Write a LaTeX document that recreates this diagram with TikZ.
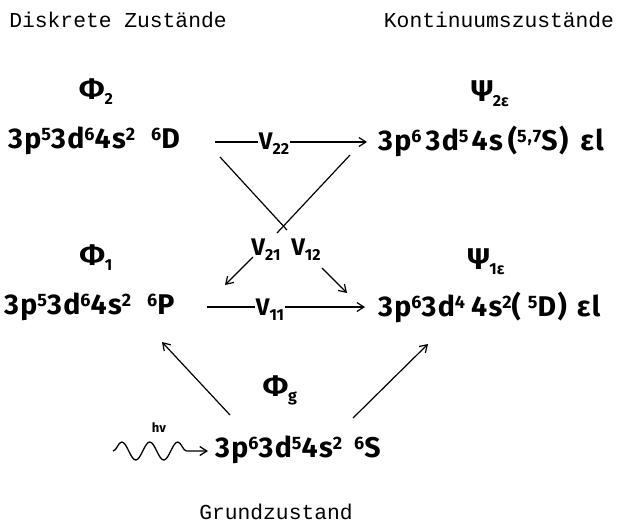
\documentclass[tikz,border=0pt]{standalone}
\usepackage{fontspec}
\setmainfont{Fira Sans}
\newfontfamily\tw{Liberation Mono}
\usetikzlibrary{arrows.meta,decorations.pathmorphing}
\newcommand\su[1]{\raisebox{8pt}{\fontsize{18}{18}\selectfont #1}}
\newcommand\lo[1]{\raisebox{-5pt}{\fontsize{16}{16}\selectfont #1}}
\begin{document}
\begin{tikzpicture}[x=1pt,y=-1pt,
  state/.style={font=\fontsize{28.5}{30}\selectfont\bfseries\addfontfeatures{LetterSpace=5}, inner sep=0pt, anchor=west},
  head/.style={font=\tw\fontsize{21.3}{24}\selectfont, inner sep=0pt},
  wf/.style={font=\fontsize{30}{32}\selectfont\bfseries, inner sep=0pt},
  vl/.style={font=\fontsize{24}{26}\selectfont\bfseries, inner sep=1pt},
  ln/.style={line width=1.2pt},
  arr/.style={line width=1.2pt, -{Straight Barb[length=7pt,width=9pt]}}]
\useasboundingbox (0,0) rectangle (620,523);
% headings
\node[head] (dz) at (118,20) {Diskrete Zustände};
\node[head] (kz) at (499,20) {Kontinuumszustände};
\node[head] (gz) at (276,512) {Grundzustand};
% wave functions
\node[wf] (phi2) at (96,92) {Φ\lo{2}};
\node[wf] (psi2) at (490,94) {Ψ\lo{2ε}};
\node[wf] (phi1) at (96,258) {Φ\lo{1}};
\node[wf] (psi1) at (486,262) {Ψ\lo{1ε}};
\node[wf] (phig) at (280,390) {Φ\lo{g}};
% states
\node[state] (s2) at (8,141) {3p\su{5}3d\su{6}4s\su{2}\hspace{16pt}\su{6}D};
\node[state] (c2) at (378,141) {3p\su{6}\hspace{4pt}3d\su{5}\hspace{3pt}4s\hspace{5pt}(\su{5,7}S)\hspace{12pt}εl};
\node[state] (s1) at (4,307) {3p\su{5}3d\su{6}4s\su{2}\hspace{16pt}\su{6}P};
\node[state] (c1) at (378,307) {3p\su{6}3d\su{4}\hspace{6pt}4s\su{2}(\hspace{7pt}\su{5}D)\hspace{10pt}εl};
\node[state] (g) at (215,450) {3p\su{6}3d\su{5}4s\su{2}\hspace{12pt}\su{6}S};
% coupling labels
\node[vl] (v22) at (274,144) {V\lo{22}};
\node[vl] (v11) at (270,310) {V\lo{11}};
\node[vl] (v21) at (266,250) {V\lo{21}};
\node[vl] (v12) at (306,250) {V\lo{12}};
\node[font=\fontsize{13}{14}\selectfont\bfseries, inner sep=0pt] (hv) at (159,428) {hν};
% coordinates
\coordinate (t2s) at (215,142);
\coordinate (t2e) at (367,142);
\coordinate (t1s) at (207,307);
\coordinate (t1e) at (365,307);
\coordinate (a12s) at (220,157);
\coordinate (a12m) at (287,230);
\coordinate (a12n) at (322,268);
\coordinate (a12e) at (347,293);
\coordinate (a21s) at (350,155);
\coordinate (a21m) at (277,233);
\coordinate (a21n) at (253,257);
\coordinate (a21e) at (225,285);
\coordinate (gl) at (230,415);
\coordinate (glt) at (162,342);
\coordinate (gr) at (353,418);
\coordinate (grt) at (428,344);
\coordinate (wv) at (113,451);
\coordinate (wve) at (208,451);
% connectors
\draw[ln] (t2s) -- (v22.west |- t2s);
\draw[arr] (v22.east |- t2s) -- (t2e);
\draw[ln] (t1s) -- (v11.west |- t1s);
\draw[arr] (v11.east |- t1s) -- (t1e);
\draw[ln] (a12s) -- (a12m);
\draw[arr] (a12n) -- (a12e);
\draw[ln] (a21s) -- (a21m);
\draw[arr] (a21n) -- (a21e);
\draw[arr] (gl) -- (glt);
\draw[arr] (gr) -- (grt);
\draw[line width=1.3pt, decorate, decoration={snake, amplitude=9pt, segment length=28pt, post length=12pt},
  -{Straight Barb[length=7pt,width=9pt]}] (wv) -- (wve);
\end{tikzpicture}
\end{document}
